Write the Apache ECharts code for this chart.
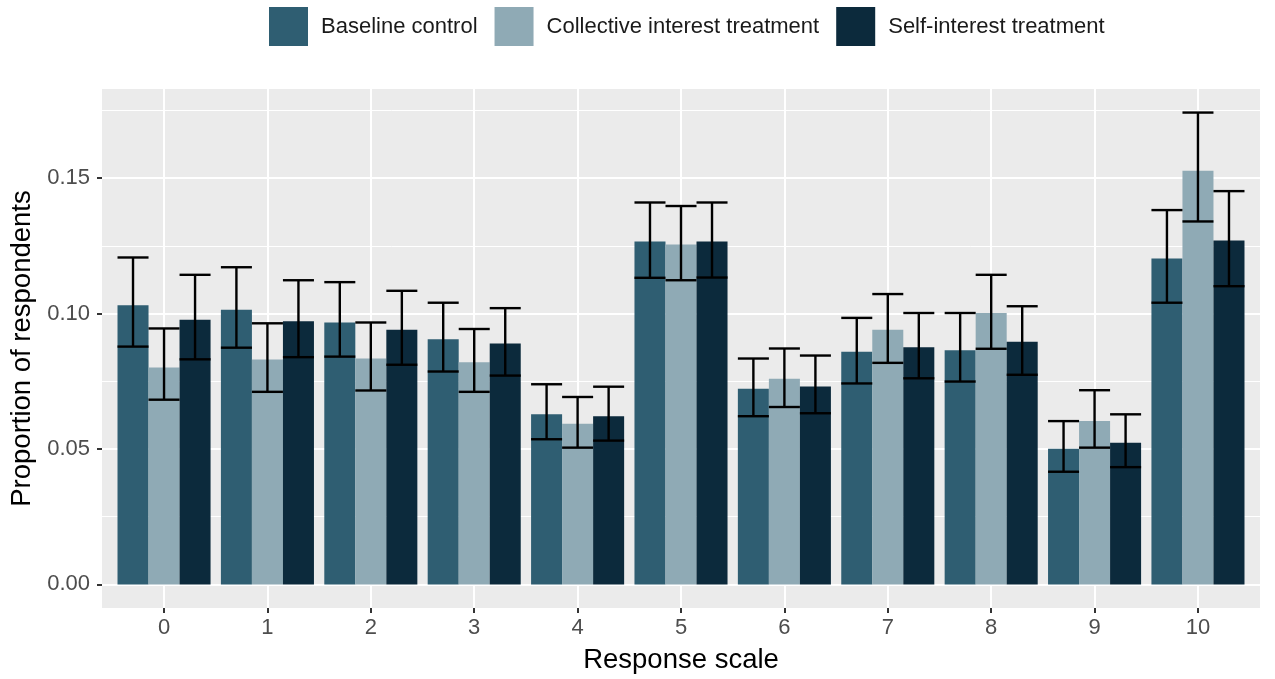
<!DOCTYPE html>
<html>
<head>
<meta charset="utf-8">
<script src="https://cdn.jsdelivr.net/npm/echarts@6/dist/echarts.min.js"></script>
<style>
html,body{margin:0;padding:0;background:#fff;}
#chart{width:1275px;height:679px;}
</style>
</head>
<body>
<div id="chart"></div>
<script>
const categories = ['0','1','2','3','4','5','6','7','8','9','10'];
const seriesNames = ['Baseline control','Collective interest treatment','Self-interest treatment'];

const baseline   = [0.1031,0.1014,0.0967,0.0905,0.0628,0.1266,0.0722,0.0859,0.0865,0.0501,0.1203];
const baselineLo = [0.0878,0.0874,0.0841,0.0786,0.0536,0.1132,0.0621,0.0742,0.0749,0.0416,0.1040];
const baselineHi = [0.1207,0.1171,0.1116,0.1040,0.0739,0.1410,0.0834,0.0984,0.1002,0.0603,0.1382];

const collective   = [0.0801,0.0830,0.0834,0.0820,0.0593,0.1255,0.0759,0.0940,0.1002,0.0603,0.1527];
const collectiveLo = [0.0682,0.0711,0.0716,0.0711,0.0505,0.1123,0.0655,0.0818,0.0870,0.0505,0.1340];
const collectiveHi = [0.0945,0.0964,0.0967,0.0943,0.0692,0.1397,0.0871,0.1072,0.1143,0.0717,0.1742];

const selfInt   = [0.0977,0.0972,0.0940,0.0889,0.0621,0.1266,0.0731,0.0876,0.0896,0.0523,0.1270];
const selfIntLo = [0.0831,0.0839,0.0811,0.0771,0.0531,0.1133,0.0632,0.0761,0.0774,0.0433,0.1101];
const selfIntHi = [0.1143,0.1123,0.1084,0.1020,0.0730,0.1410,0.0845,0.1002,0.1027,0.0628,0.1452];

const yTicks = [0, 0.05, 0.10, 0.15];
const yMinorTicks = [0.025, 0.075, 0.125, 0.175];
const xTicks = categories.map((c, i) => i);

const colors = ['#2F5E72', '#8FAAB5', '#0C2A3C'];
const dodge = [-0.3, 0, 0.3];
const barW = 0.3;
const FONT = 'Liberation Sans, Arial, Helvetica, sans-serif';

const groups = [
  {vals: baseline, lo: baselineLo, hi: baselineHi},
  {vals: collective, lo: collectiveLo, hi: collectiveHi},
  {vals: selfInt, lo: selfIntLo, hi: selfIntHi}
];

const barSeries = groups.map((g, s) => ({
  type: 'custom',
  name: seriesNames[s],
  itemStyle: {color: colors[s]},
  data: g.vals.map((v, i) => [i, v]),
  encode: {x: 0, y: 1},
  z: 2,
  renderItem: function (params, api) {
    const x = api.value(0) + dodge[s];
    const v = api.value(1);
    const p1 = api.coord([x - barW / 2, v]);
    const p2 = api.coord([x + barW / 2, 0]);
    return {
      type: 'rect',
      shape: {x: p1[0], y: p1[1], width: p2[0] - p1[0], height: p2[1] - p1[1]},
      style: {fill: colors[s]}
    };
  }
}));

const errData = [];
groups.forEach((g, s) => {
  g.vals.forEach((v, i) => errData.push([i, dodge[s], g.lo[i], g.hi[i]]));
});

const errSeries = {
  type: 'custom',
  name: 'err',
  data: errData,
  encode: {x: 0, y: [2, 3]},
  z: 5,
  silent: true,
  renderItem: function (params, api) {
    const x = api.value(0) + api.value(1);
    const lo = api.value(2), hi = api.value(3);
    const top = api.coord([x, hi]);
    const bot = api.coord([x, lo]);
    const l = api.coord([x - barW / 2, hi]);
    const r = api.coord([x + barW / 2, hi]);
    const st = {stroke: '#000', lineWidth: 2.4};
    return {
      type: 'group',
      children: [
        {type: 'line', shape: {x1: top[0], y1: top[1], x2: bot[0], y2: bot[1]}, style: st},
        {type: 'line', shape: {x1: l[0], y1: top[1], x2: r[0], y2: top[1]}, style: st},
        {type: 'line', shape: {x1: l[0], y1: bot[1], x2: r[0], y2: bot[1]}, style: st}
      ]
    };
  }
};

const chart = echarts.init(document.getElementById('chart'), null, {renderer: 'canvas'});
chart.setOption({
  animation: false,
  backgroundColor: '#ffffff',
  textStyle: {fontFamily: FONT},
  legend: {
    data: seriesNames,
    top: 2,
    left: 264,
    icon: 'rect',
    itemWidth: 39,
    itemHeight: 39,
    itemGap: 17,
    textStyle: {fontSize: 22, color: '#1a1a1a', fontFamily: FONT, padding: [0, 0, 0, 8]}
  },
  grid: {
    left: 100, right: 15, top: 89, bottom: 63,
    show: true, backgroundColor: '#EBEBEB', borderWidth: 0
  },
  xAxis: {
    type: 'value',
    min: -0.6, max: 10.6,
    name: 'Response scale',
    nameLocation: 'middle',
    nameGap: 38,
    nameTextStyle: {fontSize: 27.5, color: '#000', fontFamily: FONT},
    axisLine: {show: false, onZero: false},
    axisTick: {show: true, customValues: xTicks, length: 5, lineStyle: {color: '#333', width: 2}},
    axisLabel: {customValues: xTicks, formatter: v => categories[Math.round(v)], fontSize: 22, color: '#4D4D4D', margin: 9, fontFamily: FONT},
    splitLine: {show: true, lineStyle: {color: '#ffffff', width: 2}}
  },
  yAxis: [{
    type: 'value',
    min: -0.0087, max: 0.1829,
    name: 'Proportion of respondents',
    nameLocation: 'middle',
    nameRotate: 90,
    nameGap: 66,
    nameTextStyle: {fontSize: 27.5, color: '#000', fontFamily: FONT},
    axisLine: {show: false, onZero: false},
    axisTick: {show: true, customValues: yTicks, length: 5, lineStyle: {color: '#333', width: 2}},
    axisLabel: {customValues: yTicks, formatter: v => v.toFixed(2), fontSize: 22, color: '#4D4D4D', margin: 12, fontFamily: FONT},
    splitLine: {show: true, lineStyle: {color: '#ffffff', width: 2}}
  }, {
    type: 'value',
    position: 'left',
    min: -0.0087, max: 0.1829,
    axisLine: {show: false, onZero: false},
    axisTick: {show: false, customValues: yMinorTicks},
    axisLabel: {show: false, customValues: yMinorTicks},
    splitLine: {show: true, lineStyle: {color: '#ffffff', width: 1}}
  }],
  series: barSeries.concat([errSeries])
});
</script>
</body>
</html>
